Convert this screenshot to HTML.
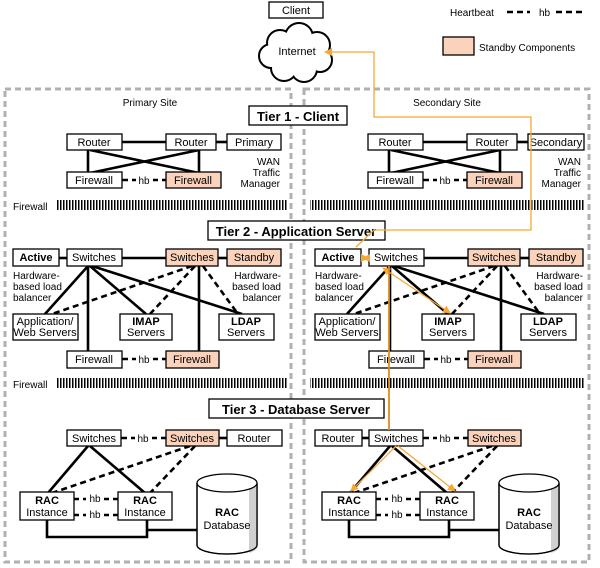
<!DOCTYPE html>
<html><head><meta charset="utf-8"><style>
html,body{margin:0;padding:0;background:#fff;}
svg{display:block;font-family:"Liberation Sans",Arial,sans-serif;}
.b{fill:#fff;stroke:#000;stroke-width:1.3;}
.p{fill:#fbd3bc;stroke:#000;stroke-width:1.3;}
.t{font-size:11px;text-anchor:middle;}
.s{font-size:10px;}
.th{stroke:#000;stroke-width:2.6;fill:none;}
.da{stroke:#000;stroke-width:2.6;fill:none;stroke-dasharray:6,4;}
.tier{font-size:13px;font-weight:bold;text-anchor:middle;}
.or{stroke:#f7a734;stroke-width:1.3;fill:none;}
</style></head><body>
<svg width="600" height="568" viewBox="0 0 600 568" xmlns="http://www.w3.org/2000/svg">
<defs>
<pattern id="h" width="3" height="12" patternUnits="userSpaceOnUse"><rect x="0" y="0" width="1.5" height="12" fill="#000"/></pattern>
<marker id="ar" markerWidth="8" markerHeight="8" refX="7" refY="4" orient="auto" markerUnits="userSpaceOnUse"><path d="M0,0 L8,4 L0,8 z" fill="#f7a734"/></marker>
<marker id="ars" markerWidth="8" markerHeight="8" refX="1" refY="4" orient="auto" markerUnits="userSpaceOnUse"><path d="M8,0 L0,4 L8,8 z" fill="#f7a734"/></marker>
</defs>

<rect x="5" y="89" width="286" height="473" fill="none" stroke="#b0b0b0" stroke-width="3" stroke-dasharray="6,4"/>
<rect x="304" y="89" width="285" height="473" fill="none" stroke="#b0b0b0" stroke-width="3" stroke-dasharray="6,4"/>

<rect class="b" x="269" y="2" width="54" height="16"/>
<text class="t" x="296" y="14" font-size="11">Client</text>
<g stroke="#000" stroke-width="4">
<circle cx="280" cy="43" r="12"/><circle cx="299" cy="37" r="13"/><circle cx="317" cy="45" r="12"/><circle cx="320" cy="60" r="11"/><circle cx="304" cy="69" r="12"/><circle cx="284" cy="68" r="12"/><circle cx="271" cy="56" r="11"/><circle cx="297" cy="54" r="16"/>
</g>
<g fill="#fff">
<circle cx="280" cy="43" r="12"/><circle cx="299" cy="37" r="13"/><circle cx="317" cy="45" r="12"/><circle cx="320" cy="60" r="11"/><circle cx="304" cy="69" r="12"/><circle cx="284" cy="68" r="12"/><circle cx="271" cy="56" r="11"/><circle cx="297" cy="54" r="16"/>
</g>
<text class="t" x="297" y="55">Internet</text>

<text class="s" x="450" y="16">Heartbeat</text>
<line x1="507" y1="12" x2="530" y2="12" class="da" stroke-width="2.2" stroke-dasharray="5,3"/>
<text class="s" x="539" y="16">hb</text>
<line x1="556" y1="12" x2="583" y2="12" class="da" stroke-width="2.2" stroke-dasharray="5,3"/>
<rect class="p" x="443" y="37" width="31" height="18"/>
<text class="s" x="479" y="51">Standby Components</text>

<text class="s" x="150" y="106" text-anchor="middle">Primary Site</text>
<text class="s" x="447" y="106" text-anchor="middle">Secondary Site</text>

<rect class="b" x="249" y="106" width="98" height="19"/><text class="tier" x="298" y="121">Tier 1 - Client</text>
<rect class="b" x="208" y="221" width="177" height="19"/><text class="tier" x="296" y="236">Tier 2 - Application Server</text>
<rect class="b" x="209" y="399" width="175" height="19"/><text class="tier" x="296" y="414">Tier 3 - Database Server</text>

<text class="s" x="13" y="210">Firewall</text>
<rect x="57" y="200" width="230" height="10" fill="url(#h)"/>
<rect x="310" y="200" width="275" height="10" fill="url(#h)"/>
<text class="s" x="13" y="388">Firewall</text>
<rect x="57" y="378" width="230" height="10" fill="url(#h)"/>
<rect x="310" y="378" width="275" height="10" fill="url(#h)"/>

<g id="t1">
<line class="th" x1="90" y1="142" x2="199" y2="142"/>
<line class="th" x1="216" y1="142" x2="227" y2="142"/>
<line class="th" x1="88" y1="150" x2="88" y2="173"/>
<line class="th" x1="199" y1="150" x2="199" y2="173"/>
<line class="th" x1="90" y1="150" x2="199" y2="173"/>
<line class="th" x1="199" y1="150" x2="90" y2="173"/>
<line class="da" x1="122" y1="180" x2="166" y2="180"/>
<rect x="136" y="173" width="17" height="14" fill="#fff"/>
<text class="s" x="144" y="184" text-anchor="middle">hb</text>
<rect class="b" x="67" y="134" width="55" height="16"/><text class="t" x="94" y="146">Router</text>
<rect class="b" x="166" y="134" width="50" height="16"/><text class="t" x="191" y="146">Router</text>
<rect class="b" x="67" y="172" width="55" height="16"/><text class="t" x="94" y="184">Firewall</text>
<rect class="p" x="166" y="172" width="55" height="16"/><text class="t" x="193" y="184">Firewall</text>
<text class="s" x="280" y="165" text-anchor="end">WAN</text>
<text class="s" x="280" y="176" text-anchor="end">Traffic</text>
<text class="s" x="280" y="187" text-anchor="end">Manager</text>
</g>
<rect class="b" x="227" y="134" width="54" height="16"/><text class="t" x="254" y="146">Primary</text>
<use href="#t1" transform="translate(301,0)"/>
<rect class="b" x="528" y="134" width="56" height="16"/><text class="t" x="556" y="146">Secondary</text>

<g id="t2">
<line class="th" x1="58" y1="258" x2="67" y2="258"/>
<line class="th" x1="122" y1="258" x2="166" y2="258"/>
<line class="th" x1="218" y1="258" x2="227" y2="258"/>
<line class="th" x1="88" y1="266" x2="45" y2="314"/>
<line class="th" x1="90" y1="266" x2="146" y2="314"/>
<line class="th" x1="92" y1="266" x2="242" y2="314"/>
<line class="th" x1="88" y1="266" x2="88" y2="351"/>
<line class="th" x1="199" y1="266" x2="199" y2="351"/>
<line class="da" x1="192" y1="266" x2="52" y2="314"/>
<line class="da" x1="195" y1="266" x2="150" y2="314"/>
<line class="da" x1="203" y1="266" x2="238" y2="314"/>
<rect class="b" x="13" y="249" width="46" height="17"/><text class="t" x="36" y="261" font-weight="bold">Active</text>
<rect class="b" x="67" y="249" width="55" height="17"/><text class="t" x="94" y="261">Switches</text>
<rect class="p" x="166" y="249" width="52" height="17"/><text class="t" x="192" y="261">Switches</text>
<rect class="p" x="227" y="249" width="54" height="17"/><text class="t" x="254" y="261">Standby</text>
<text class="s" x="13" y="279">Hardware-</text><text class="s" x="13" y="290">based load</text><text class="s" x="13" y="301">balancer</text>
<text class="s" x="281" y="279" text-anchor="end">Hardware-</text><text class="s" x="281" y="290" text-anchor="end">based load</text><text class="s" x="281" y="301" text-anchor="end">balancer</text>
<rect class="b" x="13" y="314" width="65" height="26"/><text class="t" x="45" y="325">Application/</text><text class="t" x="45" y="336">Web Servers</text>
<rect class="b" x="120" y="314" width="52" height="26"/><text class="t" x="146" y="325" font-weight="bold">IMAP</text><text class="t" x="146" y="336">Servers</text>
<rect class="b" x="219" y="314" width="55" height="26"/><text class="t" x="246" y="325" font-weight="bold">LDAP</text><text class="t" x="246" y="336">Servers</text>
<line class="da" x1="122" y1="359" x2="166" y2="359"/>
<rect x="136" y="352" width="17" height="14" fill="#fff"/>
<text class="s" x="144" y="363" text-anchor="middle">hb</text>
<rect class="b" x="67" y="351" width="55" height="17"/><text class="t" x="94" y="363">Firewall</text>
<rect class="p" x="166" y="351" width="53" height="17"/><text class="t" x="192" y="363">Firewall</text>
</g>
<use href="#t2" transform="translate(302,0)"/>

<g id="t3">
<line class="th" x1="88" y1="446" x2="48" y2="493"/>
<line class="th" x1="90" y1="446" x2="145" y2="493"/>
<line class="da" x1="190" y1="446" x2="52" y2="493"/>
<line class="da" x1="195" y1="446" x2="150" y2="493"/>
<line class="da" x1="73" y1="499" x2="118" y2="499"/>
<line class="da" x1="73" y1="515" x2="118" y2="515"/>
<rect x="86" y="492" width="18" height="13" fill="#fff"/><text class="s" x="95" y="502" text-anchor="middle">hb</text>
<rect x="86" y="508" width="18" height="13" fill="#fff"/><text class="s" x="95" y="518" text-anchor="middle">hb</text>
<polyline class="th" points="47,520 47,537 147,537 147,520"/>
<line class="th" x1="147" y1="530" x2="197" y2="530"/>
<rect class="b" x="20" y="492" width="54" height="28"/><text class="t" x="47" y="504" font-weight="bold">RAC</text><text class="t" x="47" y="516">Instance</text>
<rect class="b" x="118" y="492" width="54" height="28"/><text class="t" x="145" y="504" font-weight="bold">RAC</text><text class="t" x="145" y="516">Instance</text>
<path d="M197,483 L197,545 A30,9 0 0 0 257,545 L257,483" fill="#fff" stroke="#000" stroke-width="1.3"/>
<path d="M249,486 L249,553 A30,9 0 0 0 257,545 L257,483 z" fill="#d0d0d0"/>
<path d="M197,483 L197,545 A30,9 0 0 0 257,545 L257,483" fill="none" stroke="#000" stroke-width="1.3"/>
<ellipse cx="227" cy="483" rx="30" ry="9" fill="#fff" stroke="#000" stroke-width="1.3"/>
<text class="t" x="227" y="516" font-weight="bold">RAC</text><text class="t" x="227" y="529">Database</text>
</g>
<use href="#t3" transform="translate(302,0)"/>

<line class="da" x1="121" y1="438" x2="166" y2="438"/>
<rect x="135" y="431" width="17" height="14" fill="#fff"/><text class="s" x="143" y="442" text-anchor="middle">hb</text>
<line class="th" x1="219" y1="438" x2="227" y2="438"/>
<rect class="b" x="67" y="430" width="54" height="16"/><text class="t" x="94" y="442">Switches</text>
<rect class="p" x="166" y="430" width="53" height="16"/><text class="t" x="192" y="442">Switches</text>
<rect class="b" x="227" y="430" width="55" height="16"/><text class="t" x="254" y="442">Router</text>

<line class="th" x1="362" y1="438" x2="369" y2="438"/>
<line class="da" x1="423" y1="438" x2="468" y2="438"/>
<rect x="437" y="431" width="17" height="14" fill="#fff"/><text class="s" x="445" y="442" text-anchor="middle">hb</text>
<rect class="b" x="315" y="430" width="47" height="16"/><text class="t" x="338" y="442">Router</text>
<rect class="b" x="369" y="430" width="54" height="16"/><text class="t" x="396" y="442">Switches</text>
<rect class="p" x="468" y="430" width="53" height="16"/><text class="t" x="494" y="442">Switches</text>

<polyline class="or" points="374,52 374,117 531,117 531,230 374,230 356,247"/>
<line class="or" x1="374" y1="52" x2="325" y2="52" marker-end="url(#ar)"/>
<line class="or" x1="363" y1="258" x2="368" y2="258" marker-start="url(#ars)" marker-end="url(#ar)"/>
<line class="or" x1="383" y1="268" x2="450" y2="313" marker-start="url(#ars)" marker-end="url(#ar)"/>
<line x1="389" y1="266" x2="389" y2="430" stroke="#e08a1c" stroke-width="1.8"/>
<line class="or" x1="396" y1="446" x2="351" y2="491" marker-end="url(#ar)"/>
<line class="or" x1="398" y1="446" x2="455" y2="491" marker-end="url(#ar)"/>
</svg>
</body></html>
